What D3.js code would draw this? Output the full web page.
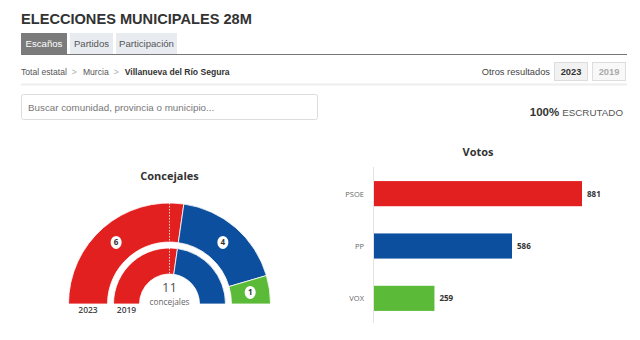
<!DOCTYPE html>
<html lang="es">
<head>
<meta charset="utf-8">
<title>Elecciones municipales 28M</title>
<script src="https://cdn.jsdelivr.net/npm/d3@7"></script>
<style>
  body { margin: 0; background: #fff; }
  svg { display: block; font-family: "Liberation Sans", Arial, sans-serif; }
</style>
</head>
<body>
<script>
const partidos = ["PSOE", "PP", "VOX"];
const votos = [881, 586, 259];
const concejales2023 = [6, 4, 1];
const concejales2019 = [6, 5, 0];
const anios = ["2023", "2019"];
const colores = { PSOE: "#e2201f", PP: "#0b4f9e", VOX: "#5bbb38" };

const width = 640, height = 340;
const svg = d3.select(document.body).append("svg")
  .attr("width", width).attr("height", height);

// ---- header ----
svg.append("text").attr("x", 21).attr("y", 24)
  .attr("font-size", 14.6).attr("font-weight", "bold").attr("fill", "#333")
  .text("ELECCIONES MUNICIPALES 28M");

const tabs = [
  { t: "Escaños", x: 21, w: 46, on: true },
  { t: "Partidos", x: 70, w: 43 },
  { t: "Participación", x: 116, w: 61 }
];
const tab = svg.selectAll("g.tab").data(tabs).enter().append("g").attr("class", "tab");
tab.append("rect").attr("x", d => d.x).attr("y", 33).attr("width", d => d.w).attr("height", 21)
  .attr("fill", d => d.on ? "#7b7b7b" : "#e8ecf1");
tab.append("text").attr("x", d => d.x + d.w / 2).attr("y", 47).attr("text-anchor", "middle")
  .attr("font-size", 9.6).attr("fill", d => d.on ? "#fff" : "#555").text(d => d.t);
svg.append("line").attr("x1", 21).attr("x2", 627).attr("y1", 54.5).attr("y2", 54.5)
  .attr("stroke", "#777").attr("stroke-width", 1);

// breadcrumb
const bc = svg.append("text").attr("x", 21).attr("y", 75).attr("font-size", 8.6).attr("fill", "#555");
bc.append("tspan").text("Total estatal");
bc.append("tspan").attr("dx", 5).attr("fill", "#aaa").text(">");
bc.append("tspan").attr("dx", 6).text("Murcia");
bc.append("tspan").attr("dx", 5).attr("fill", "#aaa").text(">");
bc.append("tspan").attr("dx", 6).attr("font-weight", "bold").attr("fill", "#333").text("Villanueva del Río Segura");

svg.append("text").attr("x", 550).attr("y", 75).attr("text-anchor", "end")
  .attr("font-size", 9.3).attr("fill", "#444").text("Otros resultados");
const btn = svg.selectAll("g.btn").data(anios).enter().append("g").attr("class", "btn");
btn.append("rect").attr("x", (d, i) => 554.5 + i * 38).attr("y", 62.5).attr("width", 33).attr("height", 18)
  .attr("fill", (d, i) => i ? "#f8f8f8" : "#f2f2f2").attr("stroke", "#ddd");
btn.append("text").attr("x", (d, i) => 571 + i * 38).attr("y", 75).attr("text-anchor", "middle")
  .attr("font-size", 9.3).attr("font-weight", "bold").attr("fill", (d, i) => i ? "#aaa" : "#333").text(d => d);

svg.append("line").attr("x1", 21).attr("x2", 627).attr("y1", 84.5).attr("y2", 84.5)
  .attr("stroke", "#eee").attr("stroke-width", 2);

// search box
svg.append("rect").attr("x", 21.5).attr("y", 94.5).attr("width", 296).attr("height", 25).attr("rx", 2)
  .attr("fill", "#fff").attr("stroke", "#dcdcdc");
svg.append("text").attr("x", 28).attr("y", 110.5).attr("font-size", 9.8).attr("fill", "#777")
  .text("Buscar comunidad, provincia o municipio...");

const esc = svg.append("text").attr("x", 623).attr("y", 116).attr("text-anchor", "end");
esc.append("tspan").attr("font-size", 11.5).attr("font-weight", "bold").attr("fill", "#333").text("100%");
esc.append("tspan").attr("dx", 3).attr("font-size", 9.8).attr("fill", "#555").text("ESCRUTADO");

// ---- hemicycle ----
const cx = 169.5, cy = 304;
const g = svg.append("g").attr("transform", `translate(${cx},${cy})`)
  .attr("font-family", "'Open Sans', sans-serif");
svg.append("text").attr("x", cx).attr("y", 180).attr("text-anchor", "middle")
  .attr("font-family", "'Open Sans', sans-serif")
  .attr("font-size", 11).attr("font-weight", "bold").attr("fill", "#333").text("Concejales");

const pie = d3.pie().sort(null).startAngle(-Math.PI / 2).endAngle(Math.PI / 2);
const arcOut = d3.arc().innerRadius(62).outerRadius(101);
const arcIn = d3.arc().innerRadius(30).outerRadius(56);
const toRows = vals => partidos.map((p, i) => ({ p, v: vals[i] }));

const outer = pie.value(d => d.v)(toRows(concejales2023));
const inner = pie.value(d => d.v)(toRows(concejales2019));

g.selectAll("path.o").data(outer).enter().append("path")
  .attr("d", arcOut).attr("fill", d => colores[d.data.p]).attr("stroke", "#fff").attr("stroke-width", 0.8);
g.selectAll("path.i").data(inner.filter(d => d.data.v > 0)).enter().append("path")
  .attr("d", arcIn).attr("fill", d => colores[d.data.p]).attr("stroke", "#fff").attr("stroke-width", 0.8);

// majority line
g.append("line").attr("x1", 0).attr("x2", 0).attr("y1", -101).attr("y2", -30)
  .attr("stroke", "#fff").attr("stroke-width", 0.8).attr("stroke-dasharray", "1.5,1.5");

const lab = g.selectAll("g.lab").data(outer).enter().append("g")
  .attr("transform", d => `translate(${arcOut.centroid(d)})`);
lab.append("ellipse").attr("rx", 5.5).attr("ry", 6.5).attr("fill", "#fff");
lab.append("text").attr("y", 3).attr("text-anchor", "middle").attr("font-size", 8)
  .attr("font-weight", "bold").attr("fill", "#333").text(d => d.data.v);

g.append("text").attr("y", -12).attr("text-anchor", "middle").attr("font-size", 13)
  .attr("fill", "#555").text(d3.sum(concejales2023));
g.append("text").attr("y", 0.5).attr("text-anchor", "middle").attr("font-size", 8.3)
  .attr("fill", "#666").text("concejales");

g.selectAll("text.yr").data(anios).enter().append("text")
  .attr("x", (d, i) => i ? -(30 + 56) / 2 : -(62 + 101) / 2).attr("y", 9)
  .attr("text-anchor", "middle").attr("font-size", 8.5).attr("font-weight", 600)
  .attr("fill", "#444").text(d => d);

// ---- bars ----
const x = d3.scaleLinear().domain([0, d3.max(votos)]).range([373, 582]);
const y = d3.scaleBand().domain(partidos).range([168, 324]).paddingInner(0.52).paddingOuter(0.25);
const bg = svg.append("g").attr("font-family", "'Open Sans', sans-serif");

bg.append("text").attr("x", 478).attr("y", 156).attr("text-anchor", "middle")
  .attr("font-size", 11).attr("font-weight", "bold").attr("fill", "#333").text("Votos");
bg.append("line").attr("x1", 373.5).attr("x2", 373.5).attr("y1", 167).attr("y2", 323)
  .attr("stroke", "#e3e3e3");

bg.selectAll("rect.bar").data(partidos).enter().append("rect")
  .attr("x", x(0) + 1).attr("y", d => y(d)).attr("height", y.bandwidth())
  .attr("width", (d, i) => x(votos[i]) - x(0) - 1).attr("fill", d => colores[d]);

bg.selectAll("text.cat").data(partidos).enter().append("text")
  .attr("x", 364).attr("y", d => y(d) + y.bandwidth() / 2 + 3).attr("text-anchor", "end")
  .attr("font-size", 7.5).attr("fill", "#666").text(d => d);

bg.selectAll("text.val").data(partidos).enter().append("text")
  .attr("x", (d, i) => x(votos[i]) + 5).attr("y", d => y(d) + y.bandwidth() / 2 + 3)
  .attr("font-size", 8).attr("font-weight", "bold").attr("fill", "#333").text((d, i) => votos[i]);
</script>
</body>
</html>
